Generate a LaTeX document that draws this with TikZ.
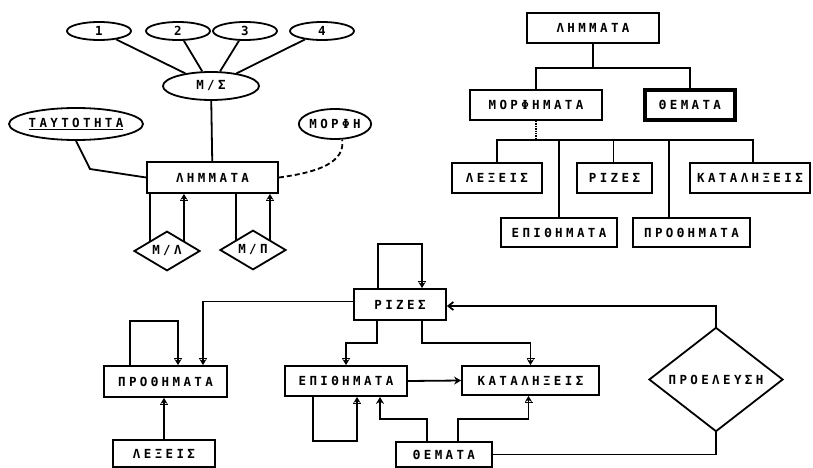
\documentclass[tikz,border=0pt]{standalone}
\usepackage{fontspec}
\newfontfamily\grf[LetterSpace=27,BoldFont={DejaVu Sans Mono Bold}]{DejaVu Sans Mono}
\usetikzlibrary{shapes.geometric,arrows.meta}
\begin{document}
\begin{tikzpicture}[x=1pt,y=-1pt,line width=1.8pt,
  every node/.style={font=\grf\bfseries\fontsize{12.5}{13}\selectfont, inner sep=0pt},
  box/.style={draw,rectangle},
  ell/.style={draw,ellipse},
  dia/.style={draw,diamond},
  mtip/.style={-{Bar[width=8pt,line width=1.5pt]Stealth[length=6pt,width=7pt]}},
  dtip/.style={-{Stealth[length=7pt,width=8pt]}},
  otip/.style={-{Straight Barb[length=5pt,width=8pt]}}]
\useasboundingbox (0,0) rectangle (813,468);

% ---------- top-left ER diagram ----------
\node[ell,minimum width=64,minimum height=18] (e1) at (99,31) {1};
\node[ell,minimum width=64,minimum height=18] (e2) at (178,31) {2};
\node[ell,minimum width=64,minimum height=18] (e3) at (245,31) {3};
\node[ell,minimum width=64,minimum height=18] (e4) at (322,31) {4};
\node[ell,minimum width=96,minimum height=28] (ms) at (211,86) {Μ/Σ};
\node[ell,minimum width=128,minimum height=32] (ta) at (76,124) {\underline{ΤΑΥΤΟΤΗΤΑ}};
\node[ell,minimum width=66,minimum height=30] (mo) at (335,124) {ΜΟΡΦΗ};
\node[box,minimum width=131,minimum height=31] (lh) at (212.5,177.5) {ΛΗΜΜΑΤΑ};
\node[dia,minimum width=66,minimum height=38] (ml) at (167,251) {Μ/Λ};
\node[dia,minimum width=66,minimum height=38] (mp) at (253,250) {Μ/Π};

\draw (e1) -- (ms);
\draw (e2) -- (ms);
\draw (e3) -- (ms);
\draw (e4) -- (ms);
\draw (ms) -- (lh);
\draw (ta.south) -- (90,169) -- (lh.west);
\draw[dash pattern=on 5pt off 3pt] (lh.east) .. controls (320,172) and (345,162) .. (mo.-65);
\draw (ml.north west) -- (ml.north west |- lh.south);
\draw[mtip] (ml.north east) -- (ml.north east |- lh.south);
\draw (mp.north west) -- (mp.north west |- lh.south);
\draw[mtip] (mp.north east) -- (mp.north east |- lh.south);

% ---------- top-right tree ----------
\node[box,minimum width=132,minimum height=30] (tl) at (593,28) {ΛΗΜΜΑΤΑ};
\node[box,minimum width=132,minimum height=30] (tm) at (536,105) {ΜΟΡΦΗΜΑΤΑ};
\node[box,minimum width=90,minimum height=30,line width=3.2pt] (tth) at (690,105) {ΘΕΜΑΤΑ};
\node[box,minimum width=90,minimum height=30] (tlx) at (497,178) {ΛΕΞΕΙΣ};
\node[box,minimum width=75,minimum height=30] (tri) at (614.5,178) {ΡΙΖΕΣ};
\node[box,minimum width=120,minimum height=30] (tka) at (750,178) {ΚΑΤΑΛΗΞΕΙΣ};
\node[box,minimum width=116,minimum height=29] (tep) at (559,232.5) {ΕΠΙΘΗΜΑΤΑ};
\node[box,minimum width=117,minimum height=29] (tpr) at (691.5,232.5) {ΠΡΟΘΗΜΑΤΑ};

\coordinate (j1) at (593,68);
\coordinate (j2) at (536,140);
\draw (tl.south) -- (j1);
\draw (tm.north) |- (j1) -| (tth.north);
\draw[densely dotted,line width=1.4pt] (tm.south) -- (j2);
\draw (tlx.north) |- (j2) -| ([xshift=3]tka.north);
\draw (tep.north) -- (tep.north |- j2);
\draw ([xshift=-1]tri.north) -- ([xshift=-1]tri.north |- j2);
\draw ([xshift=-22.5]tpr.north) -- ([xshift=-22.5]tpr.north |- j2);

% ---------- bottom diagram ----------
\node[box,minimum width=92,minimum height=31] (ri) at (400,304.5) {ΡΙΖΕΣ};
\node[box,minimum width=123,minimum height=31] (pr) at (165.5,381.5) {ΠΡΟΘΗΜΑΤΑ};
\node[box,minimum width=102,minimum height=27] (lx) at (164,453.5) {ΛΕΞΕΙΣ};
\node[box,minimum width=122,minimum height=30] (ep) at (346,381) {ΕΠΙΘΗΜΑΤΑ};
\node[box,minimum width=137,minimum height=29] (ka) at (530.5,380.5) {ΚΑΤΑΛΗΞΕΙΣ};
\node[box,minimum width=96,minimum height=25] (th) at (444,454.5) {ΘΕΜΑΤΑ};
\node[dia,minimum width=134,minimum height=69] (pe) at (716,379.5) {ΠΡΟΕΛΕΥΣΗ};

\draw[mtip] ([xshift=-22]ri.north) -- ++(0,-44) -| ([xshift=22]ri.north);
\draw[mtip] ([yshift=3]ri.west) -| ([xshift=37.5]pr.north);
\draw[mtip] ([xshift=-35.5]pr.north) -- ++(0,-44) -| ([xshift=12.5]pr.north);
\draw[mtip] (lx.north) -- (lx.north |- pr.south);
\draw[mtip] ([xshift=-23]ri.south) -- ++(0,22) -| (ep.north);
\draw[mtip] ([xshift=22]ri.south) -- ++(0,22) -| (ka.north);
\draw[dtip] (ep.east) -- (ka.west);
\draw[mtip] ([xshift=-33]ep.south) -- ++(0,44) -| ([xshift=11]ep.south);
\draw[dtip] ([xshift=-17]th.north) -- ++(0,-22) -| ([xshift=34]ep.south);
\draw[mtip] ([xshift=14]th.north) -- ++(0,-22) -| ([xshift=-2]ka.south);
\draw[otip] (pe.north) |- ([yshift=-1.5]ri.east);
\draw (pe.south) |- (th.east);
\end{tikzpicture}
\end{document}
